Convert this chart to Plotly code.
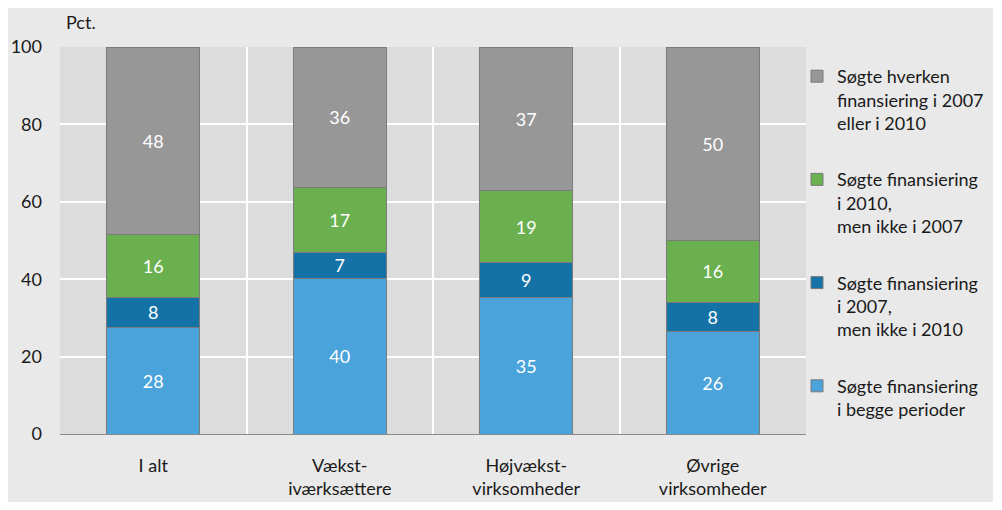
import plotly.graph_objects as go

categories = ["I alt", "Vækst-<br>iværksættere", "Højvækst-<br>virksomheder", "Øvrige<br>virksomheder"]

series_names = [
    "Søgte finansiering<br>i begge perioder",
    "Søgte finansiering<br>i 2007,<br>men ikke i 2010",
    "Søgte finansiering<br>i 2010,<br>men ikke i 2007",
    "Søgte hverken<br>finansiering i 2007<br>eller i 2010",
]
begge = [27.6, 40.3, 35.2, 26.4]
kun_2007 = [7.7, 6.7, 9.1, 7.7]
kun_2010 = [16.3, 16.8, 18.5, 15.8]
hverken = [48.4, 36.2, 37.2, 50.1]

labels_begge = ["28", "40", "35", "26"]
labels_2007 = ["8", "7", "9", "8"]
labels_2010 = ["16", "17", "19", "16"]
labels_hverken = ["48", "36", "37", "50"]

y_ticks = [0, 20, 40, 60, 80, 100]

colors = ["#4aa3db", "#1472a6", "#6ab04e", "#979797"]
values = [begge, kun_2007, kun_2010, hverken]
labels = [labels_begge, labels_2007, labels_2010, labels_hverken]

FONT = "Lato, 'Liberation Sans', Arial, sans-serif"
FS = 18

fig = go.Figure()
for i in range(4):
    fig.add_trace(go.Bar(
        x=categories, y=values[i], name=series_names[i],
        text=labels[i], textposition="inside", insidetextanchor="middle",
        textangle=0, textfont=dict(color="white", size=FS, family=FONT),
        marker=dict(color=colors[i], line=dict(color="#7a7a7a", width=1)),
        width=0.5, legendgroup=str(i), legendrank=4 - i, hoverinfo="skip",
    ))

# page body margin puts the figure at (8, 8) in the window
OX, OY = 8, 8
W, H = 985, 494
L, R, T, B = 52, 187, 39, 68
pw, ph = W - L - R, H - T - B

def px_x(sx):
    return (sx - OX - L) / pw

def px_y(sy):
    return (H - B - (sy - OY)) / ph

fig.update_layout(
    width=W, height=H,
    barmode="stack",
    bargap=0.5,
    margin=dict(l=L, r=R, t=T, b=B, pad=0, autoexpand=False),
    paper_bgcolor="#e9e9e9",
    plot_bgcolor="#dcdcdc",
    font=dict(family=FONT, size=FS, color="#1a1a1a"),
    uniformtext=dict(minsize=FS, mode="show"),
    showlegend=True,
    legend=dict(
        x=px_x(797), y=px_y(58), xanchor="left", yanchor="top",
        traceorder="grouped", tracegroupgap=30,
        bgcolor="rgba(0,0,0,0)", valign="top",
        font=dict(family=FONT, size=FS, color="#1a1a1a"),
    ),
    xaxis=dict(
        range=[-0.5, 3.5], tickson="boundaries", showgrid=True,
        gridcolor="white", gridwidth=2, ticks="", showline=True,
        linecolor="#8a8a8a", linewidth=1, ticklabelstandoff=15,
        zeroline=False, fixedrange=True, automargin=False,
    ),
    yaxis=dict(
        range=[0, 100], tickvals=y_ticks, gridcolor="white", gridwidth=2,
        ticks="", showline=False, zeroline=False, ticklabelstandoff=17,
        fixedrange=True, automargin=False,
    ),
    annotations=[dict(
        text="Pct.", xref="paper", yref="paper", x=px_x(64), y=px_y(22),
        xanchor="left", yanchor="middle", showarrow=False,
        font=dict(family=FONT, size=FS, color="#1a1a1a"),
    )],
)

fig.write_html("out.html")
